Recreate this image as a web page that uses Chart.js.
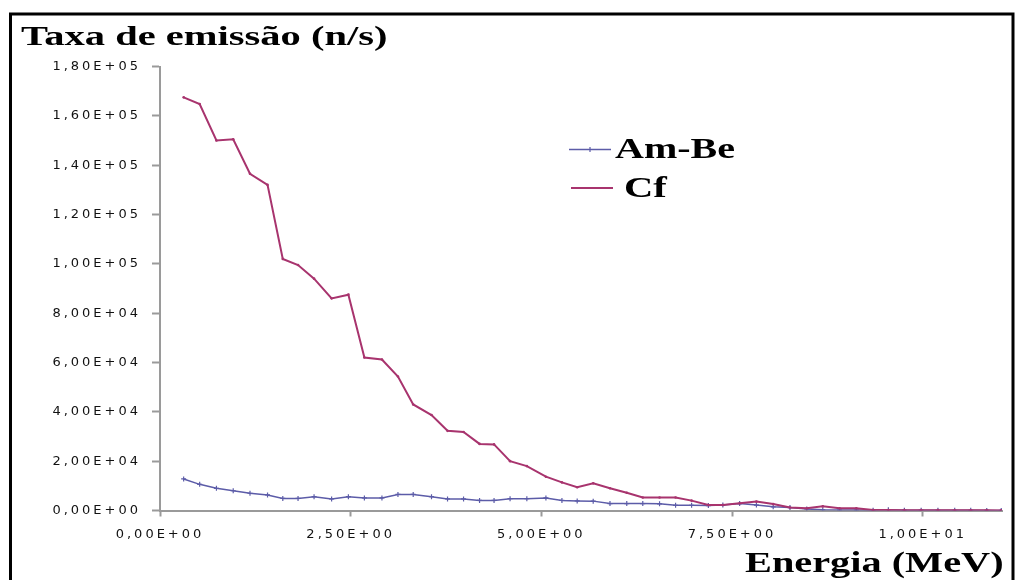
<!DOCTYPE html>
<html lang="pt">
<head>
<meta charset="UTF-8">
<title>Taxa de emissão (n/s)</title>
<script src="https://cdn.jsdelivr.net/npm/chart.js@4/dist/chart.umd.min.js"></script>
<style>
  body { margin: 0; padding: 0; background: #fff; }
  #wrap { width: 1016px; height: 580px; }
</style>
</head>
<body>
<div id="wrap"><canvas id="grafico" width="1016" height="580"></canvas></div>
<script>
// energy bins (MeV)
const energia = [0.31, 0.52, 0.74, 0.96, 1.18, 1.41, 1.61, 1.81, 2.02, 2.25,
  2.47, 2.68, 2.91, 3.12, 3.32, 3.56, 3.77, 3.98, 4.19, 4.38,
  4.59, 4.81, 5.06, 5.27, 5.47, 5.68, 5.90, 6.12, 6.33, 6.55,
  6.76, 6.97, 7.19, 7.38, 7.60, 7.82, 8.04, 8.26, 8.48, 8.69,
  8.91, 9.13, 9.35, 9.55, 9.76, 9.98, 10.20, 10.42, 10.63, 10.84, 11.03];

// emission rate (n/s)
const amBe = [12800, 10600, 9000, 8000, 7000, 6300, 4900, 4900, 5600, 4700,
  5600, 5100, 5100, 6500, 6500, 5600, 4700, 4700, 4100, 4100,
  4800, 4800, 5100, 4100, 3900, 3800, 2800, 2800, 2800, 2700,
  2100, 2100, 2000, 2200, 2800, 2200, 1500, 1200, 600, 300,
  200, 200, 150, 300, 150, 150, 100, 100, 80, 50, 30];

const cf = [167500, 164800, 150000, 150500, 136500, 132000, 102000, 99500, 94000, 86000,
  87500, 62000, 61200, 54300, 43000, 38700, 32300, 31800, 27000, 26800,
  20000, 18000, 13700, 11400, 9400, 11000, 9000, 7200, 5300, 5300,
  5300, 4000, 2200, 2200, 2900, 3600, 2600, 1200, 900, 1700,
  900, 900, 200, 200, 150, 150, 150, 100, 100, 80, 50];

const xTicks = [0, 2.5, 5, 7.5, 10];
const yTicks = [0, 20000, 40000, 60000, 80000, 100000, 120000, 140000, 160000, 180000];

const corAmBe = '#5c5ca8';
const corCf = '#a8346e';
const corEixo = '#9a9a9a';

// 1.80E+05 style labels with decimal comma
function sci(v) {
  const parts = Number(v).toExponential(2).split('e');
  const n = parseInt(parts[1], 10);
  return parts[0].replace('.', ',') + 'E' + (n < 0 ? '-' : '+') + String(Math.abs(n)).padStart(2, '0');
}

function texto(c, s, x, y, size, sx) {
  c.save();
  c.font = 'bold ' + size + 'px "Liberation Serif", "Times New Roman", serif';
  c.fillStyle = '#000';
  c.textBaseline = 'alphabetic';
  c.textAlign = 'left';
  c.translate(x, y);
  c.scale(sx, 1);
  c.fillText(s, 0, 0);
  c.restore();
}

const moldura = {
  id: 'moldura',
  beforeDraw(chart) {
    const c = chart.ctx;
    c.save();
    c.fillStyle = '#fff';
    c.fillRect(0, 0, chart.width, chart.height);
    c.strokeStyle = '#000';
    c.lineWidth = 3;
    c.beginPath();
    c.moveTo(10.5, 580);
    c.lineTo(10.5, 14);
    c.lineTo(1013, 14);
    c.lineTo(1013, 580);
    c.stroke();
    c.restore();
    c.letterSpacing = '3px';   // wide tick labels
  },
  afterDraw(chart) {
    const c = chart.ctx;
    c.letterSpacing = '0px';
    texto(c, 'Taxa de emissão (n/s)', 21, 45, 27, 1.5);
    texto(c, 'Energia (MeV)', 745, 572, 29, 1.39);

    // legend
    c.save();
    c.lineWidth = 1.5;
    c.strokeStyle = corAmBe;
    c.beginPath(); c.moveTo(569, 149.5); c.lineTo(611, 149.5); c.stroke();
    c.lineWidth = 1.2;
    c.beginPath(); c.moveTo(587.5, 149.5); c.lineTo(592.5, 149.5); c.moveTo(590, 147); c.lineTo(590, 152); c.stroke();
    c.strokeStyle = corCf;
    c.lineWidth = 2;
    c.beginPath(); c.moveTo(571, 188); c.lineTo(613, 188); c.stroke();
    c.restore();
    texto(c, 'Am-Be', 615, 158, 29, 1.38);
    texto(c, 'Cf', 624, 197, 29, 1.4);
  }
};

const pontos = (ys) => energia.map((e, i) => ({ x: e, y: ys[i] }));

new Chart(document.getElementById('grafico'), {
  type: 'line',
  data: {
    datasets: [
      {
        label: 'Am-Be',
        data: pontos(amBe),
        borderColor: corAmBe,
        borderWidth: 1.5,
        pointStyle: 'cross',
        pointRadius: 2.5,
        pointBorderWidth: 1.2,
        pointBorderColor: corAmBe,
        pointBackgroundColor: corAmBe,
        tension: 0,
        order: 1
      },
      {
        label: 'Cf',
        data: pontos(cf),
        borderColor: corCf,
        borderWidth: 2,
        pointStyle: 'circle',
        pointRadius: 1.3,
        pointBorderWidth: 0,
        pointBackgroundColor: corCf,
        tension: 0,
        order: 0
      }
    ]
  },
  options: {
    responsive: false,
    animation: false,
    events: [],
    layout: { padding: { top: 66.5, right: 14, left: 0, bottom: 0 } },
    plugins: {
      legend: { display: false },
      title: { display: false },
      tooltip: { enabled: false }
    },
    scales: {
      x: {
        type: 'linear',
        min: 0,
        max: 11.04,
        afterBuildTicks: (s) => { s.ticks = xTicks.map(v => ({ value: v })); },
        afterFit: (s) => { s.height = 69.5; },
        grid: { drawOnChartArea: false, tickLength: 6, tickWidth: 2, tickColor: corEixo },
        border: { color: corEixo, width: 2 },
        ticks: {
          padding: 10,
          maxRotation: 0,
          color: '#111',
          font: { family: '"DejaVu Sans", Verdana, sans-serif', size: 13 },
          callback: (v) => sci(v)
        }
      },
      y: {
        type: 'linear',
        min: 0,
        max: 180000,
        afterBuildTicks: (s) => { s.ticks = yTicks.map(v => ({ value: v })); },
        afterFit: (s) => { s.width = 160; },
        grid: { drawOnChartArea: false, tickLength: 8, tickWidth: 2, tickColor: corEixo },
        border: { color: corEixo, width: 2 },
        ticks: {
          padding: 11,
          color: '#111',
          font: { family: '"DejaVu Sans", Verdana, sans-serif', size: 13 },
          callback: (v) => sci(v)
        }
      }
    }
  },
  plugins: [moldura]
});
</script>
</body>
</html>
